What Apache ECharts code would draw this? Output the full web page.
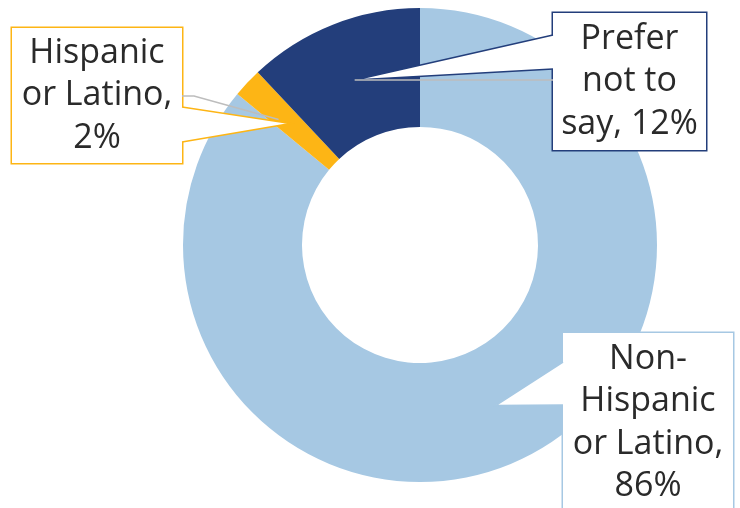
<!DOCTYPE html>
<html>
<head>
<meta charset="utf-8">
<script src="https://cdn.jsdelivr.net/npm/echarts@6/dist/echarts.min.js"></script>
<style>
  html, body { margin: 0; padding: 0; background: #ffffff; }
  #chart { width: 740px; height: 508px; }
</style>
</head>
<body>
<div id="chart"></div>
<script>
// Ethnicity breakdown (percent of respondents)
const categories = ['Non-Hispanic or Latino', 'Hispanic or Latino', 'Prefer not to say'];
const values = [86, 2, 12];
const labelTemplates = ['Non-\nHispanic\nor Latino,\n{v}%', 'Hispanic\nor Latino,\n{v}%', 'Prefer\nnot to\nsay, {v}%'];
const colors = ['#a6c8e3', '#fdb515', '#233e7b'];

// Ring geometry
const CX = 420, CY = 245, R_IN = 118, R_OUT = 237;

// Callout boxes: [left, top, width, height], the side the pointer leaves from, pointer base span (y)
const boxes = [
  { rect: [563, 333, 170, 180], side: 'left',  base: [362, 405] },
  { rect: [12, 28, 170, 135],   side: 'right', base: [107, 142] },
  { rect: [553, 13, 153, 137],  side: 'left',  base: [35, 69] }
];

const FONT = "'Open Sans', 'Liberation Sans', sans-serif";
const FONT_SIZE = 34;
const LINE_H = 42.5;
const TEXT_SHIFT = 3.5; // nudges text lines slightly lower inside each box

// Pointer tips sit in the middle of each slice's ring, at the slice's mid angle
const total = values.reduce((a, b) => a + b, 0);
let acc = 0;
const tips = values.map(v => {
  const mid = (acc + v / 2) / total * 2 * Math.PI;
  acc += v;
  const r = (R_IN + R_OUT) / 2;
  return [CX + r * Math.sin(mid), CY - r * Math.cos(mid)];
});

const data = values.map((v, i) => {
  const b = boxes[i];
  const lines = labelTemplates[i].split('\n').length;
  const padV = (b.rect[3] - lines * LINE_H) / 2;
  return {
    name: categories[i],
    value: v,
    itemStyle: { color: colors[i] },
    label: {
      borderColor: colors[i],
      width: b.rect[2],
      padding: [padV + TEXT_SHIFT, 0, padV - TEXT_SHIFT, 0]
    }
  };
});

// Callout pointers and leader lines
const graphics = [];
boxes.forEach((b, i) => {
  const edgeX = b.side === 'left' ? b.rect[0] : b.rect[0] + b.rect[2];
  const inward = b.side === 'left' ? 1.5 : -1.5;
  const p1 = [edgeX, b.base[0]], p2 = [edgeX, b.base[1]];
  graphics.push({
    type: 'polygon', z: 100, silent: true,
    shape: { points: [[edgeX + inward, b.base[0] + 0.8], p1, tips[i], p2, [edgeX + inward, b.base[1] - 0.8]] },
    style: { fill: '#ffffff', stroke: null }
  });
  graphics.push({
    type: 'polyline', z: 101, silent: true,
    shape: { points: [p1, tips[i], p2] },
    style: { stroke: colors[i], lineWidth: 1.5, fill: null }
  });
});
// grey leader lines
graphics.push({
  type: 'polyline', z: 102, silent: true,
  shape: { points: [[tips[2][0], tips[2][1]], [boxes[2].rect[0], tips[2][1]]] },
  style: { stroke: '#bdbdbd', lineWidth: 1.5, fill: null }
});
graphics.push({
  type: 'polyline', z: 102, silent: true,
  shape: { points: [[boxes[1].rect[0] + boxes[1].rect[2], 96], [194, 96], [tips[1][0] - 12, tips[1][1] - 4]] },
  style: { stroke: '#bdbdbd', lineWidth: 1.5, fill: null }
});

const chart = echarts.init(document.getElementById('chart'), null, { renderer: 'canvas' });
chart.setOption({
  animation: false,
  backgroundColor: '#ffffff',
  series: [{
    type: 'pie',
    center: [CX, CY],
    radius: [R_IN, R_OUT],
    startAngle: 90,
    clockwise: true,
    silent: true,
    avoidLabelOverlap: false,
    itemStyle: { borderWidth: 0 },
    emphasis: { disabled: true },
    label: {
      show: true,
      position: 'outside',
      formatter: p => labelTemplates[p.dataIndex].replace('{v}', p.value),
      fontFamily: FONT,
      fontSize: FONT_SIZE,
      lineHeight: LINE_H,
      color: '#2a2a2a',
      align: 'center',
      backgroundColor: '#ffffff',
      borderWidth: 1.5
    },
    labelLine: { show: false },
    labelLayout: p => {
      const r = boxes[p.dataIndex].rect;
      return { x: r[0] + r[2] / 2, y: r[1] + r[3] / 2, align: 'center', verticalAlign: 'middle' };
    },
    data: data
  }],
  graphic: graphics
});
</script>
</body>
</html>
